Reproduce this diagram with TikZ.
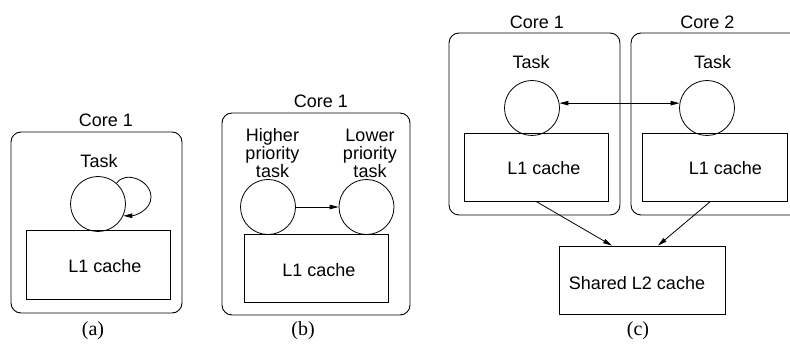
\documentclass[tikz,border=0pt]{standalone}
\usepackage{fontspec}
\setmainfont{Liberation Serif}
\newfontfamily\labelsans{Liberation Sans}
\usetikzlibrary{arrows.meta}
\tikzset{
  corebox/.style={draw, rounded corners=10pt, line width=0.9pt},
  task/.style={draw, circle, minimum size=55pt, inner sep=0pt, line width=0.8pt},
  cachebox/.style={draw, rectangle, inner sep=0pt, line width=0.8pt},
  lbl/.style={font=\labelsans\fontsize{18}{18}\selectfont, inner sep=0pt, align=center},
  subcap/.style={font=\fontsize{20}{20}\selectfont, inner sep=0pt},
  arr/.style={-{Triangle[length=9pt,width=4.5pt]}, line width=0.8pt},
  darr/.style={{Triangle[length=9pt,width=4.5pt]}-{Triangle[length=9pt,width=4.5pt]}, line width=0.8pt}
}
\begin{document}
\begin{tikzpicture}[x=1pt,y=-1pt]
\clip (0,0) rectangle (790,347);
\fill[white] (0,0) rectangle (790,347);

% (a) one task on one core
\draw[corebox] (11,132) rectangle (182,313);
\node[lbl] (coreA) at (106,120) {Core 1};
\node[lbl] (taskAlbl) at (99,161) {Task};
\node[task] (tA) at (98,204) {};
\node[cachebox, minimum width=144pt, minimum height=69pt] (l1A) at (98,264.5) {};
\node[lbl] (l1Albl) at (105,266) {L1 cache};
\coordinate (loopA) at (151,197);
\draw[arr] (tA.48) .. controls +(8,-13) and +(0,-17) .. (loopA)
  .. controls +(0,13) and +(12,0) .. (tA.-25);
\node[subcap] (capA) at (93,331) {(a)};

% (b) two tasks sharing one core
\draw[corebox] (222,113) rectangle (410,315);
\node[lbl] (coreB) at (321,101) {Core 1};
\node[lbl] (hiLbl) at (272.5,153) {Higher\\priority\\task};
\node[lbl] (loLbl) at (370,153) {Lower\\priority\\task};
\node[task] (tHi) at (268,207) {};
\node[task] (tLo) at (366.5,207) {};
\node[cachebox, minimum width=144pt, minimum height=68pt] (l1B) at (316,268) {};
\node[lbl] (l1Blbl) at (319,270) {L1 cache};
\draw[arr] (tHi) -- (tLo);
\node[subcap] (capB) at (303,331) {(b)};

% (c) two cores with a shared L2 cache
\draw[corebox] (449,33) rectangle (620,215);
\draw[corebox] (631,33) rectangle (802,215);
\node[lbl] (coreC1) at (537,22) {Core 1};
\node[lbl] (coreC2) at (707.5,22) {Core 2};
\node[lbl] (taskC1lbl) at (531,62) {Task};
\node[lbl] (taskC2lbl) at (712.5,62) {Task};
\node[task] (tC1) at (532,108) {};
\node[task] (tC2) at (707,108) {};
\node[cachebox, minimum width=144pt, minimum height=68pt] (l1C1) at (536,167) {};
\node[lbl] (l1C1lbl) at (544,168) {L1 cache};
\node[cachebox, minimum width=145pt, minimum height=68pt] (l1C2) at (714.5,167) {};
\node[lbl] (l1C2lbl) at (725.5,168) {L1 cache};
\node[cachebox, minimum width=166pt, minimum height=68pt] (l2) at (642,280) {};
\node[lbl] (l2lbl) at (637,283) {Shared L2 cache};
\draw[darr] (tC1.10) -- (tC2.170);
\draw[arr] (l1C1.south) -- ([xshift=-30pt]l2.north);
\draw[arr] ([xshift=-4pt]l1C2.south) -- ([xshift=16pt]l2.north);
\node[subcap] (capC) at (638,331) {(c)};
\end{tikzpicture}
\end{document}
